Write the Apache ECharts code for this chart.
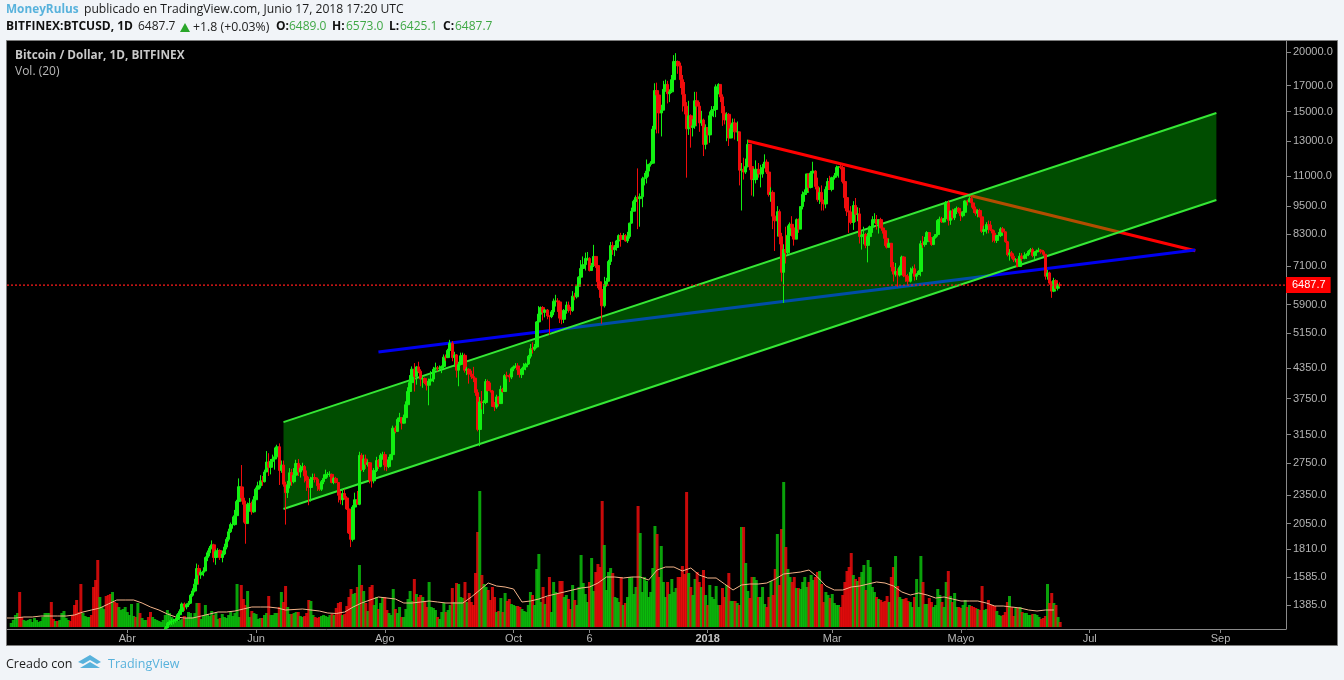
<!DOCTYPE html>
<html><head><meta charset="utf-8">
<style>html,body{margin:0;padding:0;background:#f1f4f8}#c{width:1344px;height:680px}</style>
<script src="https://cdn.jsdelivr.net/npm/echarts@6/dist/echarts.min.js"></script>
</head><body><div id="c"></div>
<script>
// Daily candles from 2017-04-19 to 2018-06-17 (earlier ones lie below the visible scale)
const candleStartIndex = 75;
const volumeStartIndex = 2;
const firstOpen = 1233;
const closes = [
1240,1265,1275,1280,1280,1290,1320,1340,1390,1370,1385,1395,
1450,1480,1530,1650,1600,1620,1630,1740,1780,1820,1850,1740,1790,1800,1740,1770,1830,1900,1970,2040,2040,2130,2280,2450,2320,2250,2050,2250,2260,2170,2300,
2420,2460,2520,2510,2630,2760,2690,2770,2800,2830,2970,2650,2720,2480,2380,2470,2620,2510,2590,2740,2630,2680,2700,2580,2520,2440,2540,2560,2540,2460,
2420,2510,2550,2600,2600,2600,2500,2550,2500,2350,2300,2370,2320,2200,1960,1900,2220,2300,2250,2850,2660,2800,2730,2750,2530,2520,2650,2780,2700,2850,2860,
2720,2700,2790,2860,3250,3200,3390,3420,3330,3420,3640,3880,4050,4320,4170,4370,4280,4120,4130,4050,4000,4080,4120,4320,4350,4340,4340,4380,4580,4570,4730,
4900,4570,4630,4300,4420,4610,4620,4300,4320,4220,4170,4140,3860,3230,3690,3680,3680,4070,3900,3890,3610,3600,3780,3660,3920,3880,4190,4180,4160,4330,
4370,4390,4310,4210,4320,4370,4430,4600,4770,4760,4810,5430,5640,5820,5690,5750,5590,5570,5700,6000,6010,5980,5530,5500,5740,5890,5770,5740,6150,6130,6450,
6740,7030,7160,7380,7380,6960,7120,7450,7130,6590,6350,5870,6510,6610,7270,7850,7700,7780,8030,8240,8090,8240,8030,8200,8750,9270,9720,9900,9850,9940,
10850,10900,11250,11620,11690,13780,16600,16250,14900,15100,16700,17100,16350,16500,17500,19100,19100,18700,17500,16300,15400,13800,14700,13900,14000,15800,15400,14200,14400,12800,13880,
13400,14700,15100,15150,16900,17100,16100,14900,14400,14800,13200,13800,14200,13600,13600,11300,11350,11200,11500,12800,11500,10800,10800,11350,11100,11100,11450,11750,11200,10050,10150,
9050,8850,9250,8200,6900,7700,7580,8250,8700,8550,8100,8900,8500,9480,10050,10150,11100,10400,11150,11250,10450,9800,10150,9700,9600,10300,10700,10300,
10900,11000,11450,11500,11450,10700,9900,9280,9230,8780,9530,9130,9150,8200,8260,8280,7860,8200,8600,8900,8900,8710,8900,8550,8440,8130,7790,7940,7080,6840,6930,
6810,7060,7430,6790,6770,6610,6900,7020,6770,6830,6930,7920,7890,8000,8360,8050,7890,8170,8280,8860,8920,8800,8940,9650,8870,9280,8980,9340,9400,9240,
9070,9220,9740,9700,9850,9650,9370,9180,9300,9020,8410,8480,8690,8670,8470,8340,8050,8240,8240,8510,8390,8000,7510,7580,7460,7330,7330,7100,7460,7380,7480,
7520,7640,7700,7480,7610,7650,7680,7620,7530,6770,6880,6550,6300,6630,6390,6489,6487.7];
const highs = [
1250,1275,1285,1295,1295,1300,1330,1355,1400,1400,1395,1410,
1460,1500,1570,1690,1680,1640,1660,1750,1800,1840,1890,1860,1810,1820,1810,1800,1860,1920,2000,2060,2120,2190,2300,2550,2720,2450,2290,2270,2320,2280,2340,
2440,2510,2590,2580,2660,2910,2880,2800,2860,2960,3000,3020,2780,2780,2510,2520,2680,2670,2680,2790,2800,2720,2750,2720,2650,2570,2570,2610,2610,2560,
2490,2530,2600,2660,2630,2640,2610,2570,2570,2500,2400,2420,2420,2340,2220,2060,2240,2380,2400,2900,2880,2860,2860,2790,2760,2620,2680,2830,2800,2880,2900,
2900,2760,2830,2870,3290,3290,3420,3500,3430,3470,3700,3960,4200,4380,4450,4390,4480,4320,4190,4150,4070,4130,4280,4370,4460,4390,4400,4400,4640,4640,4770,
4980,4950,4700,4650,4480,4680,4680,4660,4370,4340,4290,4370,3990,3920,3780,3890,3720,4120,4110,4050,3910,3690,3820,3790,3990,3950,4220,4270,4230,4360,
4400,4450,4450,4350,4350,4450,4460,4630,4880,4920,4880,5450,5860,5850,5860,5780,5780,5600,5750,6080,6190,6090,6020,5720,5780,5990,5990,5840,6300,6250,6470,
6770,7320,7450,7590,7610,7420,7220,7880,7450,7320,6800,6500,6750,6720,7330,7990,8000,7870,8070,8290,8350,8340,8300,8390,8770,9430,9800,10000,11400,10100,
10950,11150,11900,11650,11800,14000,17200,17250,16500,15500,17400,17500,17400,16700,17900,19700,19890,19200,19000,17900,17300,15700,15800,14800,14450,16500,16500,15700,15050,14500,14100,
13900,15000,15400,15400,17100,17200,17100,16300,15400,14950,14900,14100,14500,14500,14300,13600,11700,12000,11950,13100,12800,11900,11400,11850,11700,11600,11650,12200,11900,11300,10400,
10250,9150,9500,9350,8350,7900,8600,8650,8780,9050,8600,8950,8950,9500,10200,10300,11100,11100,11250,11770,11300,10900,10400,10500,9800,10450,10880,11000,
10950,11150,11550,11520,11700,11550,10900,10000,9400,9500,9730,9880,9450,9420,8420,8600,8350,8350,8650,9050,9180,9100,8920,8980,8670,8530,8210,8110,7950,7250,7220,
7030,7130,7480,7450,6900,6850,7060,7100,7170,6870,6970,8040,8220,8190,8420,8370,8180,8220,8300,8920,9030,9020,8970,9740,9760,9300,9380,9400,9480,9450,
9240,9270,9770,9800,9950,9980,9650,9480,9360,9380,9020,8640,8790,8860,8840,8490,8450,8270,8380,8580,8590,8410,8030,7720,7650,7560,7390,7380,7580,7570,7600,
7570,7680,7760,7770,7640,7700,7770,7720,7680,7530,6980,6920,6610,6720,6670,6550,6573];
const lows = [
1233,1235,1255,1255,1260,1270,1285,1315,1335,1345,1355,1370,
1390,1440,1470,1520,1530,1570,1590,1630,1710,1750,1810,1700,1680,1770,1720,1700,1760,1810,1880,1960,2000,2030,2130,2280,2280,2060,1860,2050,2170,2140,2160,
2290,2390,2430,2460,2500,2630,2580,2600,2720,2660,2830,2470,2620,2450,2040,2320,2430,2460,2490,2570,2580,2560,2650,2500,2400,2240,2280,2470,2500,2400,
2400,2400,2480,2550,2560,2570,2490,2480,2490,2270,2250,2240,2300,2190,1950,1830,1880,2210,2250,2240,2640,2630,2670,2700,2490,2440,2490,2630,2670,2690,2790,
2650,2640,2680,2780,2830,3170,3190,3350,3230,3320,3410,3620,3860,4040,3880,4010,4240,3980,3950,4020,3900,3630,4080,4060,4290,4280,4300,4240,4340,4500,4560,
4680,4490,4370,4150,3980,4400,4470,4250,4200,4030,4120,4060,3800,3200,2980,3560,3480,3650,3880,3860,3600,3530,3570,3610,3660,3860,3880,4120,4060,4120,
4280,4350,4200,4150,4140,4300,4300,4410,4550,4660,4720,4780,5180,5500,5470,5550,5500,5100,5530,5610,5850,5700,5400,5370,5400,5650,5680,5620,5700,6030,6080,
6380,6700,6980,6960,7300,6930,6950,7080,7050,6390,6100,5380,5820,6440,6600,7150,7510,7460,7660,8000,7810,8080,8000,7950,8120,8730,9300,9600,8500,8600,
9450,10500,10600,10950,11500,11650,13700,13500,13500,13300,15100,16500,15600,15700,16400,17300,18800,18000,16800,15000,14800,10900,13400,12600,13300,13800,14000,13600,14000,12100,12500,
12800,12900,14500,14600,14600,16300,15700,14000,14100,13000,12700,13200,13600,13100,13000,10500,9300,10800,11100,11450,11300,10000,9950,10600,10900,10400,10900,11400,11100,9950,9700,
8500,7650,8200,7900,6600,5950,7200,7500,8100,8200,7850,8100,8350,8500,9350,9700,10100,10200,10350,11100,10300,9700,9600,9300,9300,9400,10100,10300,
10200,10800,10900,10900,11350,10600,9400,9060,8350,8700,8470,8800,8830,7930,7700,7900,7750,7240,8100,8350,8740,8480,8320,8540,8320,7840,7740,7800,6930,6600,6760,
6430,6760,7020,6740,6590,6510,6570,6860,6630,6650,6820,6770,7760,7810,8010,7980,7840,7870,8120,8200,8600,8760,8780,8900,8650,8680,8900,8880,9140,9170,
8840,9000,9190,9530,9680,9430,9190,9070,9000,9000,8350,8250,8320,8330,8420,7980,7960,7950,8100,8180,8340,7960,7450,7300,7370,7250,7240,7070,7080,7280,7350,
7360,7460,7600,7420,7360,7500,7620,7550,7470,6660,6660,6500,6100,6270,6340,6320,6425];
// Volume from 2017-02-05, one value a day
const volumes = [
4,7,12,14,35,10,7,6,7,8,5,9,7,5,6,10,14,14,14,25,8,6,6,7,14,16,9,7,6,12,22,27,15,43,14,11,10,10,12,40,47,67,30,20,18,31,32,33,35,25,24,20,17,18,20,15,12,23,11,10,24,14,9,7,7,10,15,10,
8,7,6,5,7,12,17,14,10,8,5,6,7,8,11,9,15,14,10,14,24,24,8,11,22,13,11,16,12,14,8,9,13,10,9,12,15,11,14,43,10,42,28,22,36,10,16,14,13,8,9,9,12,14,31,12,12,14,
14,20,35,25,41,20,13,13,14,15,15,11,10,11,14,27,26,12,10,9,10,11,12,11,10,12,13,12,19,24,25,12,13,21,30,38,33,34,40,62,42,36,24,16,40,42,22,30,18,24,30,30,17,14,12,38,18,14,20,10,10,18,28,36,26,48,33,30,32,30,25,20,45,20,19,17,10,8,15,24,15,17,22,39,25,44,43,30,29,45,25,34,25,22,54,95,136,52,43,40,37,27,40,30,15,16,29,15,34,26,28,23,22,21,21,20,18,16,15,22,35,32,22,58,73,
25,40,23,30,50,15,45,35,33,46,46,30,32,28,18,42,27,22,40,72,44,33,25,45,69,36,55,63,60,126,82,37,55,59,54,30,29,25,50,22,24,30,50,50,33,40,121,94,35,50,46,30,35,59,101,93,50,81,45,30,45,33,48,35,39,50,50,61,53,135,54,40,32,48,55,45,40,57,32,22,42,30,28,41,22,22,39,30,42,54,26,26,26,24,22,100,100,64,36,29,50,50,47,30,30,40,23,20,30,46,32,58,93,42,98,145,80,58,50,45,50,
39,39,38,45,50,40,45,52,47,50,55,56,43,25,35,32,29,33,24,22,22,20,32,45,56,60,74,52,48,46,50,55,62,37,67,60,40,35,30,28,27,25,26,31,25,50,60,71,41,30,28,28,29,26,25,20,30,48,20,71,45,23,23,29,25,20,22,38,32,25,20,45,56,31,25,34,20,20,19,22,27,20,22,21,20,19,18,17,41,17,18,27,22,22,21,16,12,11,12,15,25,31,20,11,19,19,20,15,14,14,12,12,13,13,12,10,8,9,11,43,24,34,24,22,10,5];
const earlyRedDays = [4,5,19,20,22,28,29,30,31,32,33,38,39,40,41,45,46,47,49,50,59,61,65,66];
// Vol (20) average, read every fourth day
const maStep = 4;
const volumeAverage = [
9,9,10,10,11,11,11,11,12,15,17,19,23,27,27,27,24,20,17,13,10,9,9,11,13,15,15,16,18,20,20,20,19,
17,17.5,18,17,16,14,13.5,15,20,24,27,30,29,28,24,24,25,26,25,24,24,24,30,37,44,41,40,38,25,26,
28,31,33,35,37,39,40,44,50,50,49,50,50,47,57,60,60,56,59,52,49,49,43,37,42,43,43,44,48,53,54,
55,57,50,41,37,37,40,41,43,45,44,41,35,32,34,32,29,30,28,26,26,26,24,21,21,20,19,17,16,17,17];
const priceTicks = [20000,17000,15000,13000,11000,9500,8300,7100,5900,5150,4350,3750,3150,2750,2350,2050,1810,1585,1385];
const lastPrice = 6487.7;
const dateTicks = {'2017-04-01':'Abr','2017-06-01':'Jun','2017-08-01':'Ago','2017-10-01':'Oct','2017-11-06':'6','2018-01-01':'2018','2018-03-01':'Mar','2018-05-01':'Mayo','2018-07-01':'Jul','2018-09-01':'Sep'};
// Drawn trend tools: [date, price]
const channelUpper = [['2017-06-14',3347],['2018-08-30',14896]];
const channelLower = [['2017-06-14',2199],['2018-08-30',9784]];
const blueLine = [['2017-07-29',4695],['2018-08-20',7685]];
const redLine = [['2018-01-20',13010],['2018-08-20',7660]];

const nDays = 607;
if (closes.length!==425||highs.length!==425||lows.length!==425) throw new Error('len '+closes.length+' '+highs.length+' '+lows.length);
if (volumes.length!==498) throw new Error('vol '+volumes.length);

const dates = [];
{const t0 = Date.UTC(2017,1,3); for(let i=0;i<nDays;i++) dates.push(new Date(t0+i*864e5).toISOString().slice(0,10));}
const candleData = [], volumeData = [];
for (let i=0;i<candleStartIndex;i++) candleData.push(['-','-','-','-']);
closes.forEach((c,k)=>{candleData.push([k===0?firstOpen:closes[k-1],c,lows[k],highs[k]]);});
const UP='#12f012', DOWN='#f00c0c', VUP='#0cc40c', VDOWN='#f40c0c';
for (let i=0;i<volumeStartIndex;i++) volumeData.push('-');
volumes.forEach((v,j)=>{
  const i=j+volumeStartIndex;
  let red;
  if(i<candleStartIndex) red=earlyRedDays.includes(j);
  else {const d=candleData[i]; red=d[1]<d[0];}
  volumeData.push({value:v,itemStyle:{color:red?VDOWN:VUP,opacity:0.82}});
});
const maData = volumeAverage.map((v,n)=>[dates[n*maStep],v]);
const lastLine = [[dates[0],lastPrice],[dates[nDays-1],lastPrice]];
const gray='#b4b4b4', line='#8a8a8a';
const FONT='"Liberation Sans",Arial,sans-serif', HF='"Open Sans",sans-serif';
const BLUE='#58b2dc', TXTG='#3fa845';
function t(x,y,text,fill,size,weight,family){return {type:'text',x,y,z:20,silent:true,style:{text,fill,font:`${weight||'normal'} ${size||12}px ${family||HF}`,textVerticalAlign:'middle'}};}

const chart = echarts.init(document.getElementById('c'),null,{renderer:'canvas'});
chart.setOption({
  animation:false,
  backgroundColor:'#f1f4f8',
  graphic:[
    {type:'rect',z:-10,shape:{x:6.5,y:40.5,width:1331,height:605},style:{fill:'#000',stroke:'#7c7c7c',lineWidth:1}},
    t(6,10,'MoneyRulus',BLUE,11.8,'bold'),
    t(84,10,'publicado en TradingView.com, Junio 17, 2018 17:20 UTC','#1c1c1c',12.15),
    t(6,27,'BITFINEX:BTCUSD, 1D','#111',12,'bold'),
    t(138,27,'6487.7','#222',12),
    {type:'polygon',z:20,silent:true,shape:{points:[[180,32],[190,32],[185,23]]},style:{fill:'#2aa62a'}},
    t(193,27,'+1.8 (+0.03%)','#222',12.3),
    t(276,27,'O:','#111',12,'bold'), t(289,27,'6489.0',TXTG,12),
    t(332,27,'H:','#111',12,'bold'), t(346,27,'6573.0',TXTG,12),
    t(389,27,'L:','#111',12,'bold'), t(400,27,'6425.1',TXTG,12),
    t(443,27,'C:','#111',12,'bold'), t(455,27,'6487.7',TXTG,12),
    t(15,56,'Bitcoin / Dollar, 1D, BITFINEX','#c8c8c8',11.8,'bold'),
    t(15,72,'Vol. (20)','#b8b8b8',12),
    t(6,664,'Creado con','#1c1c1c',12.5),
    {type:'polygon',z:20,silent:true,shape:{points:[[78,662],[90,655],[101,662],[97,664],[90,660],[83,664]]},style:{fill:BLUE}},
    {type:'polygon',z:20,silent:true,shape:{points:[[80,668],[90,662],[100,668]]},style:{fill:BLUE}},
    t(108,664,'TradingView',BLUE,12.5)
  ],
  grid:[
    {left:7,right:58,top:41,bottom:51,containLabel:false},
    {left:7,right:58,top:477,bottom:53,containLabel:false}
  ],
  xAxis:[
    {type:'category',gridIndex:0,data:dates,boundaryGap:false,
     axisLine:{lineStyle:{color:line,width:1}},
     axisTick:{show:true,length:4,lineStyle:{color:line},interval:(i,v)=>v in dateTicks},
     axisLabel:{color:gray,fontFamily:FONT,fontSize:11,margin:4,interval:(i,v)=>v in dateTicks,hideOverlap:false,
       formatter:v=>v==='2018-01-01'?'{b|2018}':(dateTicks[v]||''),rich:{b:{fontWeight:'bold',color:'#c4c4c4',fontFamily:FONT,fontSize:11}}},
     splitLine:{show:false}},
    {type:'category',gridIndex:1,data:dates,boundaryGap:false,show:false}
  ],
  yAxis:[
    {type:'log',logBase:10,gridIndex:0,position:'right',min:1232,max:21092,
     axisLine:{show:true,lineStyle:{color:line,width:1}},
     axisTick:{show:true,length:5,lineStyle:{color:line},customValues:priceTicks},
     axisLabel:{color:gray,fontFamily:FONT,fontSize:11,margin:7,customValues:priceTicks,formatter:v=>Number(v).toFixed(1)},
     minorTick:{show:false},splitLine:{show:false}},
    {type:'value',gridIndex:1,min:0,max:150,show:false,splitLine:{show:false}}
  ],
  series:[
    {type:'bar',name:'Volumen',xAxisIndex:1,yAxisIndex:1,data:volumeData,barWidth:3,z:1,silent:true,large:false,progressive:0},
    {type:'line',name:'Vol MA',xAxisIndex:1,yAxisIndex:1,data:maData,showSymbol:false,z:2,silent:true,
     lineStyle:{color:'#f4b48a',width:1}},
    {type:'line',name:'Red',data:redLine,showSymbol:false,z:3,silent:true,lineStyle:{color:'#ff0000',width:3}},
    {type:'line',name:'Blue',data:blueLine,showSymbol:false,z:3,silent:true,lineStyle:{color:'#0000f0',width:3}},
    {type:'custom',name:'Canal',z:4,silent:true,clip:false,data:[[channelUpper[0][0],channelUpper[0][1]]],
     encode:{x:0,y:1},
     renderItem:(p,api)=>{
       const pts=[channelUpper[0],channelUpper[1],channelLower[1],channelLower[0]]
         .map(d=>api.coord([dates.indexOf(d[0]),d[1]]));
       return {type:'polygon',shape:{points:pts},style:{fill:'rgba(0,255,0,0.3)'}};
     }},
    {type:'line',name:'Canal sup',data:channelUpper,showSymbol:false,z:5,silent:true,lineStyle:{color:'#35e835',width:2}},
    {type:'line',name:'Canal inf',data:channelLower,showSymbol:false,z:5,silent:true,lineStyle:{color:'#35e835',width:2}},
    {type:'candlestick',name:'BTCUSD',data:candleData,barWidth:3,clip:true,z:6,silent:true,progressive:0,
     itemStyle:{color:UP,color0:DOWN,borderColor:UP,borderColor0:DOWN,borderWidth:1}},
    {type:'line',name:'Último',data:lastLine,showSymbol:false,z:7,silent:true,clip:false,
     lineStyle:{color:'#ff1a1a',type:[2,2],width:1.3},
     endLabel:{show:true,distance:0,formatter:'6487.7',color:'#fff',backgroundColor:'#ff0000',
       fontFamily:FONT,fontSize:11,padding:[3,5,2,6]}}
  ]
});
</script></body></html>
